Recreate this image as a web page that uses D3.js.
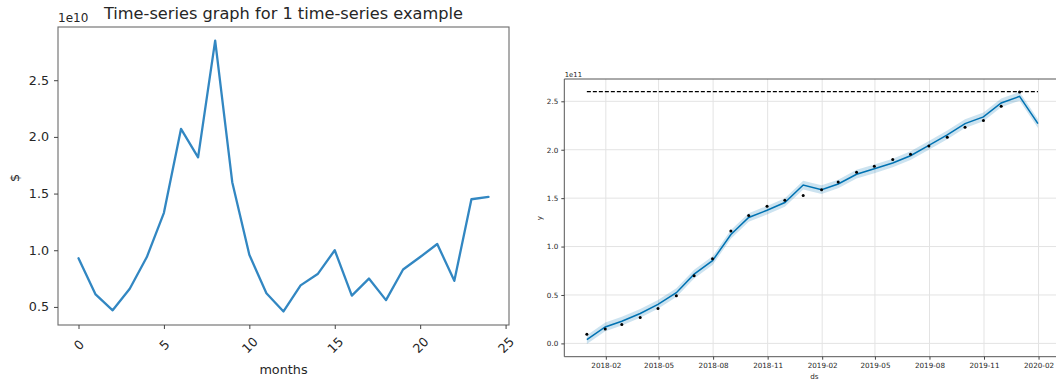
<!DOCTYPE html>
<html>
<head>
<meta charset="utf-8">
<script src="https://cdn.jsdelivr.net/npm/d3@7"></script>
<style>
  html, body { margin: 0; padding: 0; background: #fff; }
  svg { display: block; font-family: "DejaVu Sans", sans-serif; }
</style>
</head>
<body>
<svg id="chart" width="1056" height="383"></svg>
<script>
// ---- Left panel: monthly values (units of 1e10 $) ----
const months = [0,1,2,3,4,5,6,7,8,9,10,11,12,13,14,15,16,17,18,19,20,21,22,23,24];
const monthValues = [0.93,0.61,0.47,0.66,0.94,1.33,2.07,1.82,2.85,1.60,0.96,0.62,0.46,0.69,0.79,1.00,0.60,0.75,0.56,0.83,0.94,1.055,0.73,1.45,1.47];
const leftXTicks = [0,5,10,15,20,25];
const leftYTicks = [0.5,1.0,1.5,2.0,2.5];

// ---- Right panel: observed series and forecast (units of 1e11) ----
const obsDates = ["2017-12-31","2018-01-31","2018-02-28","2018-03-31","2018-04-30","2018-05-31","2018-06-30","2018-07-31","2018-08-31","2018-09-30","2018-10-31","2018-11-30","2018-12-31","2019-01-31","2019-02-28","2019-03-31","2019-04-30","2019-05-31","2019-06-30","2019-07-31","2019-08-31","2019-09-30","2019-10-31","2019-11-30","2019-12-31"];
const obsValues = [0.094,0.149,0.194,0.267,0.361,0.493,0.698,0.875,1.16,1.32,1.417,1.479,1.528,1.587,1.667,1.767,1.83,1.90,1.952,2.038,2.13,2.233,2.301,2.449,2.596];
const fcDates = ["2017-12-31","2018-01-31","2018-02-28","2018-03-31","2018-04-30","2018-05-31","2018-06-30","2018-07-31","2018-08-31","2018-09-30","2018-10-31","2018-11-30","2018-12-31","2019-01-31","2019-02-28","2019-03-31","2019-04-30","2019-05-31","2019-06-30","2019-07-31","2019-08-31","2019-09-30","2019-10-31","2019-11-30","2019-12-31","2020-01-31"];
const yhat      = [0.038,0.17,0.229,0.309,0.403,0.524,0.715,0.854,1.125,1.30,1.375,1.455,1.635,1.587,1.646,1.747,1.803,1.863,1.938,2.045,2.154,2.27,2.339,2.483,2.551,2.27];
const yhatLower = [-0.007,0.125,0.184,0.264,0.358,0.479,0.67,0.809,1.08,1.255,1.33,1.41,1.59,1.542,1.601,1.702,1.758,1.818,1.893,2.0,2.109,2.225,2.294,2.438,2.506,2.225];
const yhatUpper = [0.083,0.215,0.274,0.354,0.448,0.569,0.76,0.899,1.17,1.345,1.42,1.5,1.68,1.632,1.691,1.792,1.848,1.908,1.983,2.09,2.199,2.315,2.384,2.528,2.596,2.315];
const capValue = 2.6;
const rightXTicks = ["2018-02","2018-05","2018-08","2018-11","2019-02","2019-05","2019-08","2019-11","2020-02"];
const rightYTicks = [0.0,0.5,1.0,1.5,2.0,2.5];

const svg = d3.select("#chart");
const textColor = "#262626";

// Pad a numeric extent by a fraction of its span on each side
function pad(ext, frac) {
  const d = (ext[1] - ext[0]) * frac;
  return [ext[0] - d, ext[1] + d];
}

// ================= Left panel =================
{
  const L = { left: 58, right: 509, top: 27, bottom: 325 };
  const g = svg.append("g");
  const x = d3.scaleLinear().domain(pad(d3.extent(months), 0.05)).range([L.left, L.right]);
  const y = d3.scaleLinear().domain(pad(d3.extent(monthValues), 0.05)).range([L.bottom, L.top]);

  const line = d3.line().x((d, i) => x(months[i])).y(d => y(d));
  g.append("path").datum(monthValues)
    .attr("d", line).attr("fill", "none")
    .attr("stroke", "#3287c2").attr("stroke-width", 2.3)
    .attr("stroke-linejoin", "round").attr("stroke-linecap", "round");

  g.append("rect")
    .attr("x", L.left).attr("y", L.top)
    .attr("width", L.right - L.left).attr("height", L.bottom - L.top)
    .attr("fill", "none").attr("stroke", "#6b6b6b").attr("stroke-width", 1.1);

  const yAxis = g.append("g").attr("transform", `translate(${L.left},0)`)
    .call(d3.axisLeft(y).tickValues(leftYTicks).tickFormat(d3.format(".1f")).tickSize(4).tickPadding(5));
  yAxis.select(".domain").remove();
  yAxis.selectAll("line").attr("stroke", "#444");
  yAxis.selectAll("text").attr("font-size", 12.7).attr("fill", textColor).attr("font-family", "DejaVu Sans");

  const xAxis = g.append("g").attr("transform", `translate(0,${L.bottom})`)
    .call(d3.axisBottom(x).tickValues(leftXTicks).tickFormat(d3.format("d")).tickSize(4));
  xAxis.select(".domain").remove();
  xAxis.selectAll("line").attr("stroke", "#444");
  xAxis.selectAll("text")
    .attr("font-size", 12.7).attr("fill", textColor).attr("font-family", "DejaVu Sans")
    .attr("y", 0).attr("dy", null)
    .attr("text-anchor", "middle").attr("dominant-baseline", "central")
    .attr("transform", "translate(0,20) rotate(-45)");

  g.append("text").attr("x", (L.left + L.right) / 2).attr("y", 19)
    .attr("text-anchor", "middle").attr("font-size", 16.2).attr("fill", textColor)
    .text("Time-series graph for 1 time-series example");
  g.append("text").attr("x", L.left).attr("y", 22)
    .attr("font-size", 12).attr("fill", textColor).text("1e10");
  g.append("text").attr("x", (L.left + L.right) / 2).attr("y", 374)
    .attr("text-anchor", "middle").attr("font-size", 12.8).attr("fill", textColor).text("months");
  g.append("text").attr("transform", "translate(19,178) rotate(-90)")
    .attr("text-anchor", "middle").attr("font-size", 12.8).attr("fill", textColor).text("$");
}

// ================= Right panel =================
{
  const R = { left: 564.3, right: 1060.5, top: 79, bottom: 356.7 };
  const parse = d3.utcParse("%Y-%m-%d");
  const parseMonth = d3.utcParse("%Y-%m");
  const obs = obsDates.map((d, i) => ({ t: parse(d), v: obsValues[i] }));
  const fc = fcDates.map((d, i) => ({ t: parse(d), v: yhat[i], lo: yhatLower[i], hi: yhatUpper[i] }));

  const tExt = d3.extent(fc, d => d.t);
  const span = tExt[1] - tExt[0];
  const x = d3.scaleUtc()
    .domain([new Date(+tExt[0] - span * 0.05), new Date(+tExt[1] + span * 0.05)])
    .range([R.left, R.right]);
  const yExt = [d3.min(yhatLower), capValue];
  const y = d3.scaleLinear().domain(pad(yExt, 0.05)).range([R.bottom, R.top]);

  const g = svg.append("g");
  const xTickDates = rightXTicks.map(parseMonth);

  // grid
  const grid = g.append("g").attr("stroke", "#e3e3e3").attr("stroke-width", 1);
  grid.selectAll(".gx").data(xTickDates).join("line")
    .attr("x1", d => x(d)).attr("x2", d => x(d)).attr("y1", R.top).attr("y2", R.bottom);
  grid.selectAll(".gy").data(rightYTicks).join("line")
    .attr("x1", R.left).attr("x2", R.right).attr("y1", d => y(d)).attr("y2", d => y(d));

  // uncertainty band
  g.append("path").datum(fc)
    .attr("d", d3.area().x(d => x(d.t)).y0(d => y(d.lo)).y1(d => y(d.hi)))
    .attr("fill", "#0072B2").attr("fill-opacity", 0.2);

  // forecast line
  g.append("path").datum(fc)
    .attr("d", d3.line().x(d => x(d.t)).y(d => y(d.v)))
    .attr("fill", "none").attr("stroke", "#0072B2").attr("stroke-width", 1.5);

  // cap
  g.append("line")
    .attr("x1", x(tExt[0])).attr("x2", x(tExt[1]))
    .attr("y1", y(capValue)).attr("y2", y(capValue))
    .attr("stroke", "#000").attr("stroke-width", 1.1).attr("stroke-dasharray", "4,2");

  // observed points
  g.selectAll(".pt").data(obs).join("circle")
    .attr("cx", d => x(d.t)).attr("cy", d => y(d.v)).attr("r", 1.5).attr("fill", "#000");

  // spines: left, bottom, top (right edge sits past the canvas)
  const spine = g.append("g").attr("stroke", "#555").attr("stroke-width", 1);
  spine.append("line").attr("x1", R.left).attr("x2", R.left).attr("y1", R.top).attr("y2", R.bottom);
  spine.append("line").attr("x1", R.left).attr("x2", R.right).attr("y1", R.bottom).attr("y2", R.bottom);
  spine.append("line").attr("x1", R.left).attr("x2", R.right).attr("y1", R.top).attr("y2", R.top);

  const yAxis = g.append("g").attr("transform", `translate(${R.left},0)`)
    .call(d3.axisLeft(y).tickValues(rightYTicks).tickFormat(d3.format(".1f")).tickSize(3).tickPadding(3));
  yAxis.select(".domain").remove();
  yAxis.selectAll("line").attr("stroke", "#444");
  yAxis.selectAll("text").attr("font-size", 7.2).attr("fill", textColor).attr("font-family", "DejaVu Sans");

  const xAxis = g.append("g").attr("transform", `translate(0,${R.bottom})`)
    .call(d3.axisBottom(x).tickValues(xTickDates).tickFormat(d3.utcFormat("%Y-%m")).tickSize(3).tickPadding(3));
  xAxis.select(".domain").remove();
  xAxis.selectAll("line").attr("stroke", "#444");
  xAxis.selectAll("text").attr("font-size", 7.2).attr("fill", textColor).attr("font-family", "DejaVu Sans");

  g.append("text").attr("x", R.left + 0.5).attr("y", 77)
    .attr("font-size", 6.8).attr("fill", textColor).text("1e11");
  g.append("text").attr("x", (R.left + R.right) / 2 + 2).attr("y", 379)
    .attr("text-anchor", "middle").attr("font-size", 7.2).attr("fill", textColor).text("ds");
  g.append("text").attr("transform", "translate(542,218) rotate(-90)")
    .attr("text-anchor", "middle").attr("font-size", 7.2).attr("fill", textColor).text("y");
}
</script>
</body>
</html>
